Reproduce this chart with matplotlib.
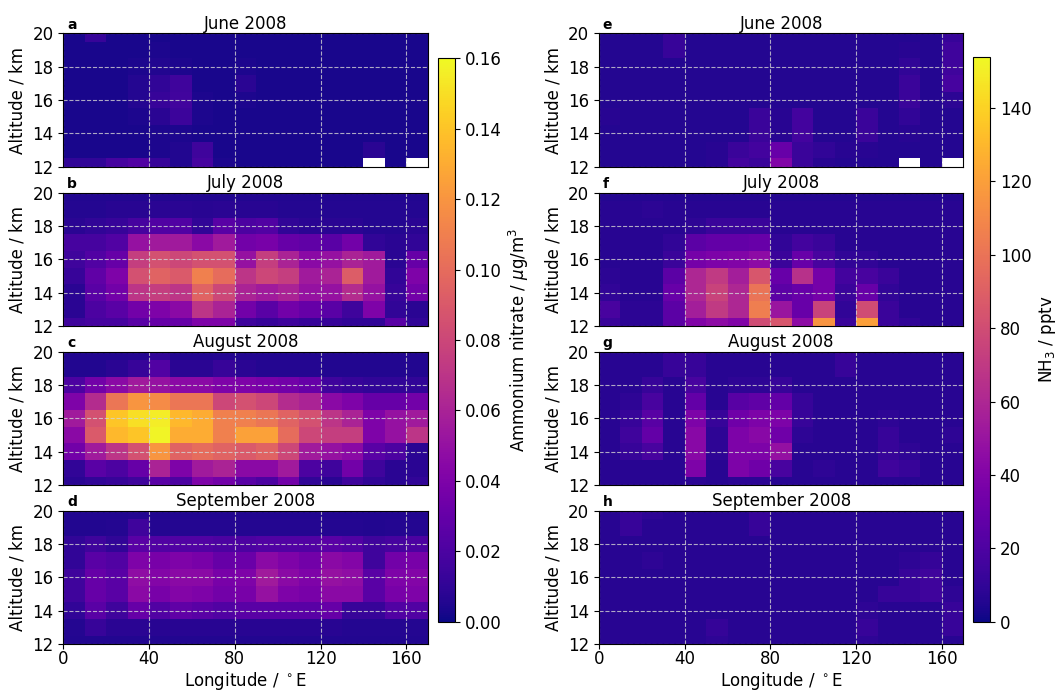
import numpy as np
import matplotlib
matplotlib.use("Agg")
import matplotlib.pyplot as plt

nan = np.nan

# grid cell centres
lon = [5, 15, 25, 35, 45, 55, 65, 75, 85, 95, 105, 115, 125, 135, 145, 155, 165]
alt = [12, 13, 14, 15, 16, 17, 18, 19, 20]

months = ["June 2008", "July 2008", "August 2008", "September 2008"]
letters_left = ["a", "b", "c", "d"]
letters_right = ["e", "f", "g", "h"]

# ammonium nitrate, ng/m3, rows listed from 20 km down to 12 km
no3_jun = [
    [3, 12, 3, 3, 3, 3, 3, 3, 3, 3, 3, 3, 3, 3, 3, 3, 3],
    [3, 3, 3, 3, 4, 3, 3, 3, 3, 3, 3, 3, 3, 3, 3, 3, 3],
    [3, 3, 3, 4, 5, 4, 3, 3, 4, 3, 3, 3, 3, 3, 3, 3, 3],
    [3, 3, 3, 6, 10, 15, 3, 3, 8, 3, 3, 3, 3, 3, 3, 3, 3],
    [3, 3, 3, 6, 12, 16, 4, 3, 4, 3, 3, 3, 3, 3, 3, 3, 3],
    [3, 3, 3, 4, 8, 14, 4, 3, 3, 3, 3, 3, 3, 3, 3, 3, 3],
    [3, 3, 3, 3, 4, 4, 3, 3, 3, 3, 3, 3, 3, 3, 3, 3, 3],
    [3, 3, 3, 3, 4, 5, 15, 3, 3, 3, 3, 3, 3, 3, 8, 3, 3],
    [10, 10, 18, 22, 12, 5, 18, 4, 3, 3, 3, 3, 3, 3, nan, 3, nan],
]
no3_jul = [
    [5, 5, 5, 5, 5, 5, 5, 5, 5, 5, 5, 5, 5, 5, 5, 5, 5],
    [6, 6, 7, 7, 8, 8, 7, 8, 7, 7, 6, 6, 6, 6, 6, 6, 6],
    [8, 10, 12, 18, 22, 22, 10, 25, 20, 22, 10, 8, 8, 8, 6, 6, 8],
    [18, 18, 22, 50, 55, 55, 45, 55, 35, 38, 30, 28, 25, 35, 10, 8, 10],
    [15, 22, 30, 75, 85, 80, 85, 85, 50, 75, 60, 45, 50, 60, 55, 8, 30],
    [12, 28, 40, 85, 95, 90, 110, 100, 70, 80, 75, 55, 60, 92, 55, 10, 40],
    [8, 25, 35, 70, 75, 70, 95, 80, 60, 55, 60, 50, 50, 65, 50, 12, 35],
    [8, 20, 25, 35, 40, 45, 70, 60, 35, 25, 35, 30, 25, 15, 40, 10, 8],
    [15, 18, 18, 25, 30, 30, 40, 40, 15, 12, 15, 12, 12, 10, 10, 25, 10],
]
no3_aug = [
    [5, 5, 5, 6, 10, 5, 5, 6, 5, 5, 5, 5, 5, 5, 5, 5, 5],
    [5, 5, 8, 12, 22, 8, 8, 12, 8, 6, 6, 6, 5, 5, 5, 5, 5],
    [20, 35, 45, 55, 50, 45, 45, 40, 40, 38, 35, 30, 15, 12, 10, 10, 10],
    [40, 65, 105, 120, 115, 105, 105, 80, 85, 80, 65, 60, 45, 40, 30, 30, 35],
    [55, 85, 140, 150, 155, 135, 130, 110, 110, 105, 95, 85, 70, 60, 40, 50, 55],
    [45, 90, 135, 140, 158, 130, 130, 110, 125, 125, 100, 80, 75, 75, 40, 50, 70],
    [35, 55, 70, 85, 120, 95, 100, 95, 90, 95, 80, 55, 50, 45, 25, 20, 8],
    [10, 25, 20, 30, 60, 40, 55, 60, 45, 45, 55, 20, 15, 35, 15, 8, 8],
    [8, 10, 12, 15, 25, 20, 40, 35, 25, 20, 35, 10, 8, 15, 10, 8, 10],
]
no3_sep = [
    [5, 5, 5, 6, 5, 5, 5, 5, 5, 5, 5, 5, 5, 5, 5, 5, 5],
    [5, 5, 6, 15, 6, 6, 6, 6, 6, 6, 6, 6, 6, 6, 5, 6, 6],
    [10, 15, 10, 25, 22, 22, 22, 20, 20, 22, 22, 22, 25, 22, 15, 18, 20],
    [10, 25, 22, 40, 38, 40, 38, 30, 32, 45, 40, 35, 45, 42, 15, 35, 38],
    [15, 30, 25, 48, 42, 45, 45, 38, 40, 55, 45, 40, 50, 48, 25, 40, 42],
    [15, 30, 25, 45, 38, 42, 40, 35, 38, 50, 40, 38, 45, 45, 25, 38, 40],
    [10, 25, 15, 30, 22, 28, 25, 22, 25, 25, 25, 25, 30, 12, 12, 22, 22],
    [6, 12, 8, 8, 7, 7, 7, 7, 7, 7, 7, 7, 7, 6, 6, 6, 6],
    [5, 5, 5, 5, 5, 5, 5, 5, 5, 5, 5, 5, 5, 5, 5, 5, 5],
]

# NH3, pptv, rows listed from 20 km down to 12 km
nh3_jun = [
    [6, 6, 6, 12, 6, 6, 6, 6, 6, 6, 6, 6, 6, 6, 6, 6, 12],
    [6, 6, 6, 12, 6, 6, 6, 6, 6, 6, 6, 6, 6, 6, 7, 6, 15],
    [6, 6, 6, 6, 6, 6, 6, 6, 6, 6, 6, 6, 6, 6, 10, 6, 15],
    [6, 6, 6, 6, 6, 6, 6, 6, 6, 6, 6, 6, 6, 6, 13, 6, 17],
    [6, 6, 6, 6, 6, 6, 6, 6, 6, 6, 6, 6, 6, 6, 13, 6, 8],
    [7, 6, 6, 6, 6, 6, 6, 13, 7, 16, 6, 6, 13, 6, 10, 6, 6],
    [6, 6, 6, 6, 6, 6, 6, 13, 7, 16, 6, 6, 13, 6, 7, 6, 6],
    [6, 6, 6, 6, 6, 7, 13, 16, 30, 13, 10, 7, 7, 6, 6, 6, 6],
    [6, 6, 6, 6, 6, 7, 16, 13, 40, 13, 7, 6, 6, 6, nan, 6, nan],
]
nh3_jul = [
    [6, 6, 6, 6, 6, 6, 6, 6, 6, 6, 6, 6, 6, 6, 6, 6, 6],
    [7, 7, 8, 7, 7, 7, 7, 7, 7, 7, 7, 7, 7, 7, 7, 7, 7],
    [7, 7, 7, 7, 9, 13, 13, 13, 7, 7, 7, 7, 7, 7, 7, 7, 7],
    [7, 7, 7, 10, 25, 28, 28, 30, 10, 16, 13, 7, 7, 7, 7, 7, 7],
    [7, 7, 7, 13, 35, 38, 40, 45, 13, 30, 18, 10, 10, 7, 7, 7, 7],
    [8, 7, 7, 25, 60, 70, 55, 85, 30, 65, 35, 16, 18, 13, 7, 7, 7],
    [10, 7, 7, 30, 60, 75, 60, 100, 25, 30, 35, 13, 30, 10, 7, 7, 7],
    [18, 8, 8, 25, 55, 70, 60, 105, 50, 30, 75, 10, 80, 13, 7, 7, 7],
    [13, 8, 8, 25, 40, 45, 40, 80, 85, 45, 115, 13, 120, 13, 10, 7, 7],
]
nh3_aug = [
    [7, 7, 7, 12, 12, 7, 7, 7, 7, 7, 7, 12, 7, 7, 7, 7, 7],
    [7, 7, 7, 12, 12, 7, 7, 7, 7, 7, 7, 12, 7, 7, 7, 7, 7],
    [7, 7, 12, 7, 18, 7, 9, 9, 12, 7, 7, 7, 7, 7, 7, 7, 7],
    [7, 9, 18, 7, 28, 7, 24, 27, 28, 12, 7, 7, 7, 7, 7, 7, 7],
    [7, 12, 24, 7, 38, 12, 33, 38, 38, 12, 7, 7, 7, 9, 7, 7, 7],
    [7, 15, 28, 7, 43, 9, 38, 43, 33, 9, 7, 7, 7, 12, 7, 7, 9],
    [7, 12, 18, 7, 43, 9, 38, 38, 48, 7, 7, 7, 7, 12, 9, 7, 7],
    [7, 7, 7, 7, 38, 7, 38, 33, 18, 7, 9, 7, 7, 15, 12, 7, 7],
    [7, 7, 7, 7, 8, 7, 8, 8, 7, 7, 7, 7, 7, 7, 7, 7, 7],
]
nh3_sep = [
    [7, 12, 9, 7, 7, 7, 7, 12, 7, 7, 7, 7, 7, 7, 7, 7, 7],
    [7, 12, 7, 7, 7, 7, 7, 12, 7, 7, 7, 7, 7, 7, 7, 7, 7],
    [7, 7, 7, 7, 7, 7, 7, 7, 7, 7, 7, 7, 7, 7, 7, 7, 7],
    [7, 7, 9, 7, 7, 7, 7, 7, 7, 7, 7, 7, 7, 7, 9, 11, 7],
    [7, 7, 7, 7, 7, 7, 7, 7, 7, 7, 7, 7, 7, 7, 12, 15, 7],
    [7, 7, 7, 7, 7, 7, 7, 7, 7, 7, 7, 7, 7, 12, 12, 15, 9],
    [7, 7, 7, 7, 7, 7, 7, 7, 7, 7, 7, 7, 9, 7, 7, 7, 12],
    [7, 7, 7, 7, 7, 11, 7, 7, 7, 7, 7, 7, 12, 7, 7, 7, 12],
    [7, 7, 7, 7, 7, 9, 7, 7, 7, 7, 7, 7, 9, 7, 7, 7, 7],
]

no3_all = [no3_jun, no3_jul, no3_aug, no3_sep]
nh3_all = [nh3_jun, nh3_jul, nh3_aug, nh3_sep]

NO3_MAX = 0.16
NH3_MAX = 154

fig = plt.figure(figsize=(10.57, 6.95), dpi=100)

left_x, right_x, ax_w, ax_h = 0.0599, 0.5667, 0.3447, 0.1919
bottoms = [0.7601, 0.5309, 0.3022, 0.0734]


def draw_panel(ax, z, vmax, title, letter, last):
    z = np.ma.masked_invalid(np.flipud(np.array(z, dtype=float)))
    m = ax.pcolormesh(lon, alt, z, cmap="plasma", vmin=0, vmax=vmax, shading="nearest")
    ax.set_xlim(0, 170)
    ax.set_ylim(12, 20)
    ax.set_yticks([12, 14, 16, 18, 20])
    ax.set_xticks([0, 40, 80, 120, 160])
    ax.grid(True, color="lightgrey", linestyle="--", linewidth=0.8, alpha=0.8)
    ax.tick_params(labelsize=12)
    ax.tick_params(axis="x", pad=1)
    ax.set_ylabel("Altitude / km", fontsize=12)
    ax.set_title(title, fontsize=12, pad=3)
    ax.text(0.01, 1.01, letter, transform=ax.transAxes, fontsize=10,
            fontweight="bold", va="bottom", ha="left")
    if last:
        ax.set_xlabel("Longitude / $^\\circ$E", fontsize=12, labelpad=1)
    else:
        ax.tick_params(axis="x", bottom=False, labelbottom=False)
    return m


for i in range(4):
    axl = fig.add_axes([left_x, bottoms[i], ax_w, ax_h])
    ml = draw_panel(axl, np.array(no3_all[i], dtype=float) / 1000.0, NO3_MAX,
                    months[i], letters_left[i], i == 3)
    axr = fig.add_axes([right_x, bottoms[i], ax_w, ax_h])
    mr = draw_panel(axr, nh3_all[i], NH3_MAX, months[i], letters_right[i], i == 3)

cax1 = fig.add_axes([0.4147, 0.1055, 0.0158, 0.8106])
cb1 = fig.colorbar(ml, cax=cax1)
cb1.set_ticks([0, 0.02, 0.04, 0.06, 0.08, 0.10, 0.12, 0.14, 0.16])
cb1.ax.tick_params(labelsize=12)
cb1.set_label("Ammonium nitrate / $\\mu$g/m$^3$", fontsize=12)

cax2 = fig.add_axes([0.9208, 0.1055, 0.0158, 0.813])
cb2 = fig.colorbar(mr, cax=cax2)
cb2.set_ticks([0, 20, 40, 60, 80, 100, 120, 140])
cb2.ax.tick_params(labelsize=12)
cb2.set_label("NH$_3$ / pptv", fontsize=12)

fig.savefig("out.png", dpi=100)
